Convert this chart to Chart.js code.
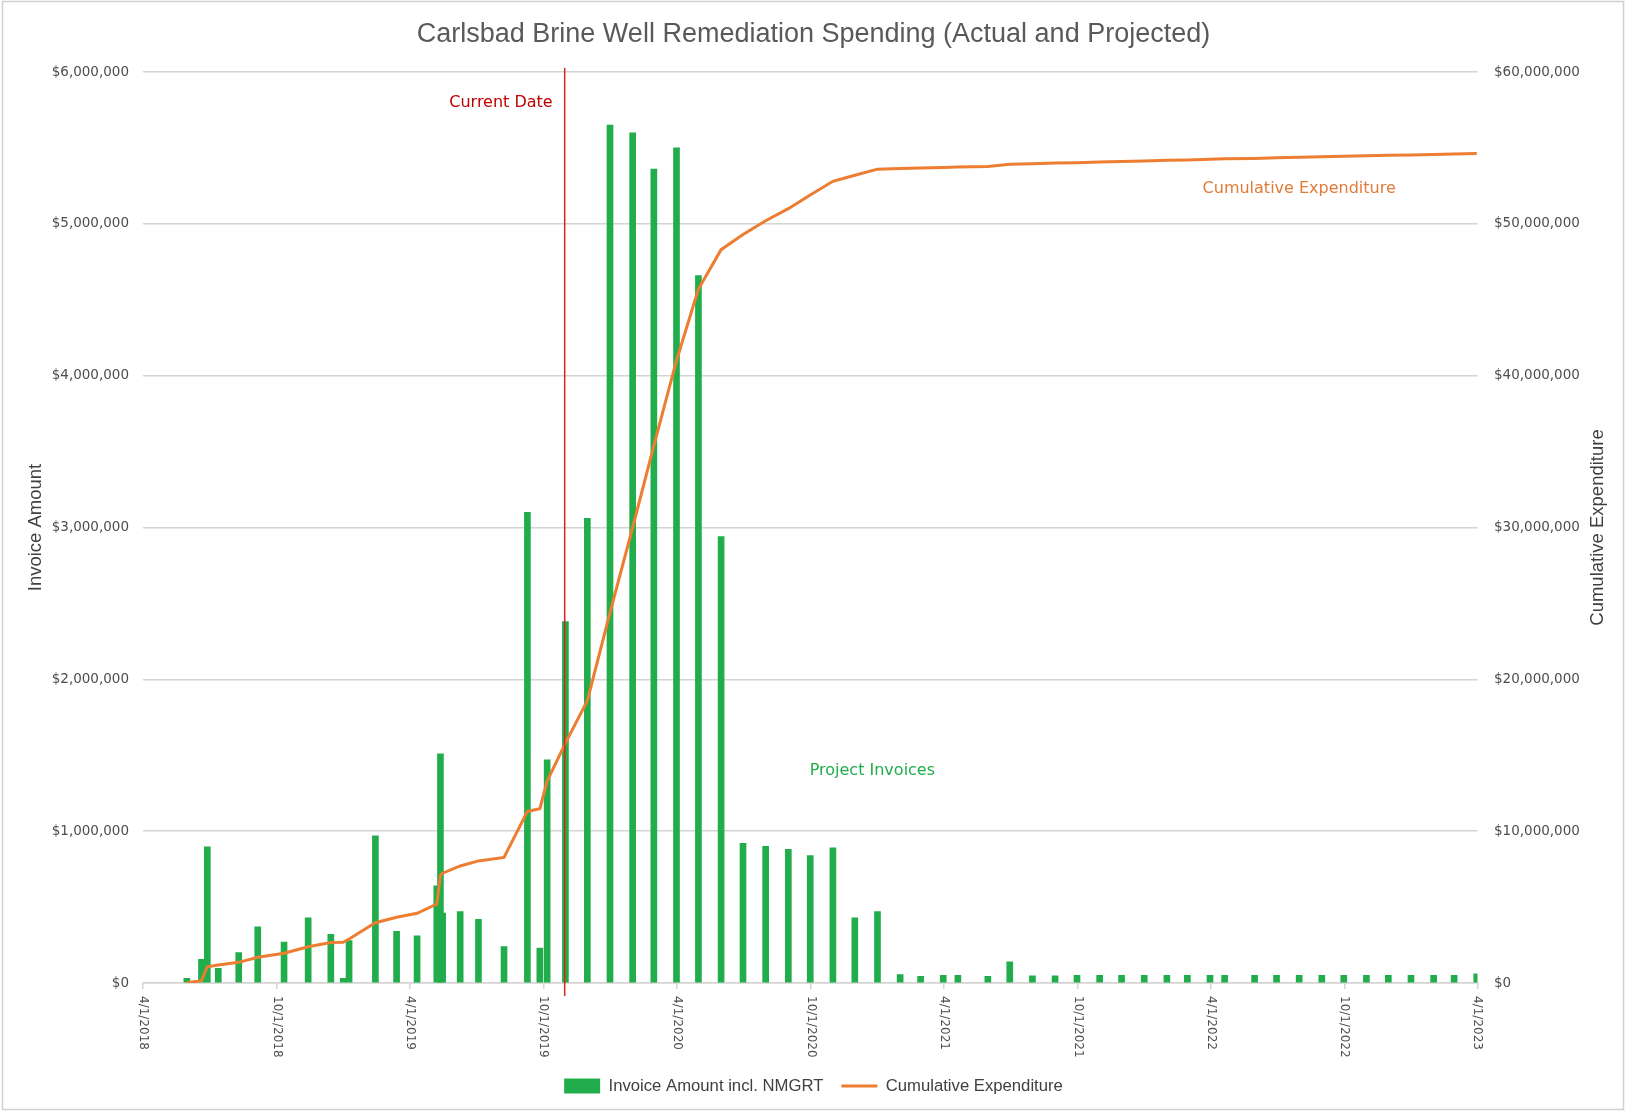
<!DOCTYPE html>
<html>
<head>
<meta charset="utf-8">
<title>Carlsbad Brine Well Remediation Spending</title>
<script src="https://cdn.jsdelivr.net/npm/chart.js@4.4.1/dist/chart.umd.min.js"></script>
<style>
  html, body { margin: 0; padding: 0; background: #fff; }
  #wrap { width: 1627px; height: 1112px; position: relative; }
</style>
</head>
<body>
<div id="wrap"><canvas id="chart"></canvas></div>
<script>
// invoice dates and amounts
const invoiceDates = [
  '2018-05-31', '2018-06-20', '2018-06-28', '2018-07-13', '2018-08-10', '2018-09-05', '2018-10-11', '2018-11-13', '2018-12-14', '2018-12-31',
  '2019-01-08', '2019-02-13', '2019-03-14', '2019-04-11', '2019-05-08', '2019-05-13', '2019-05-16', '2019-06-09', '2019-07-04', '2019-08-08',
  '2019-09-09', '2019-09-26', '2019-10-06', '2019-10-31', '2019-11-30', '2019-12-31', '2020-01-31', '2020-02-29', '2020-03-31', '2020-04-30',
  '2020-05-31', '2020-06-30', '2020-07-31', '2020-08-31', '2020-09-30', '2020-10-31', '2020-11-30', '2020-12-31', '2021-01-31', '2021-02-28',
  '2021-03-31', '2021-04-20', '2021-05-31', '2021-06-30', '2021-07-31', '2021-08-31', '2021-09-30', '2021-10-31', '2021-11-30', '2021-12-31',
  '2022-01-31', '2022-02-28', '2022-03-31', '2022-04-20', '2022-05-31', '2022-06-30', '2022-07-31', '2022-08-31', '2022-09-30', '2022-10-31',
  '2022-11-30', '2022-12-31', '2023-01-31', '2023-02-28', '2023-03-31'
];
const invoiceAmounts = [
  30000, 156000, 897000, 97000, 200000, 370000, 270000, 430000, 320000, 30000,
  280000, 970000, 340000, 310000, 640000, 1510000, 460000, 470000, 420000, 240000,
  3100000, 230000, 1470000, 2380000, 3060000, 5650000, 5600000, 5360000, 5500000, 4660000,
  2940000, 920000, 900000, 880000, 840000, 890000, 430000, 470000, 55000, 44000,
  50000, 50000, 44000, 140000, 48000, 48000, 50000, 50000, 50000, 50000,
  50000, 50000, 50000, 50000, 50000, 50000, 50000, 50000, 50000, 50000,
  50000, 50000, 50000, 50000, 60000
];
// cumulative expenditure in $ millions, same dates
const cumulativeMillions = [
  0.02, 0.15, 1.07, 1.19, 1.36, 1.69, 1.96, 2.39, 2.66, 2.68,
  2.90, 3.97, 4.33, 4.59, 5.20, 7.11, 7.23, 7.71, 8.04, 8.27,
  11.30, 11.48, 13.30, 15.80, 18.60, 24.40, 30.00, 35.40, 41.00, 45.70,
  48.30, 49.30, 50.20, 51.00, 51.90, 52.80, 53.20, 53.60, 53.64, 53.67,
  53.71, 53.74, 53.77, 53.92, 53.96, 54.00, 54.03, 54.07, 54.10, 54.14,
  54.18, 54.21, 54.25, 54.28, 54.31, 54.35, 54.38, 54.42, 54.45, 54.48,
  54.51, 54.54, 54.57, 54.60, 54.64
];
const tickLabels = ['4/1/2018', '10/1/2018', '4/1/2019', '10/1/2019', '4/1/2020', '10/1/2020',
  '4/1/2021', '10/1/2021', '4/1/2022', '10/1/2022', '4/1/2023'];
const currentDate = '2019-10-30';

const START = Date.UTC(2018, 3, 1);
const toDay = (iso) => (Date.parse(iso) - START) / 864e5;
const labelToDay = (s) => {
  const [m, d, y] = s.split('/').map(Number);
  return (Date.UTC(y, m - 1, d) - START) / 864e5;
};
const money = (v) => '$' + Number(v).toLocaleString('en-US');

const GREEN = '#21AD4B';
const ORANGE = '#ED7D31';

const overlay = {
  id: 'overlay',
  afterDatasetsDraw(chart) {
    const { ctx, chartArea, scales } = chart;
    const x = scales.x, y = scales.y, y1 = scales.y1;
    const cx = x.getPixelForValue(toDay(currentDate));
    ctx.save();
    // current date marker
    ctx.strokeStyle = '#D9261C';
    ctx.lineWidth = 1.5;
    ctx.beginPath();
    ctx.moveTo(cx, chartArea.top - 4);
    ctx.lineTo(cx, chartArea.bottom + 13);
    ctx.stroke();

    ctx.font = '16px "DejaVu Sans"';
    ctx.textBaseline = 'middle';
    ctx.fillStyle = '#C00000';
    ctx.textAlign = 'right';
    ctx.fillText('Current Date', cx - 12, y.getPixelForValue(5800000));

    ctx.textAlign = 'center';
    ctx.fillStyle = '#E07B39';
    ctx.fillText('Cumulative Expenditure', x.getPixelForValue(toDay('2022-07-31')), y1.getPixelForValue(52300000));
    ctx.fillStyle = GREEN;
    ctx.fillText('Project Invoices', x.getPixelForValue(toDay('2020-12-24')), y.getPixelForValue(1400000));
    ctx.restore();
  },
  afterDraw(chart) {
    const { ctx, chartArea, scales } = chart;
    ctx.save();
    // rotated date labels, reading top to bottom
    ctx.font = '12px "DejaVu Sans"';
    ctx.fillStyle = '#4d4d4d';
    ctx.textAlign = 'left';
    ctx.textBaseline = 'middle';
    tickLabels.forEach((l) => {
      const px = scales.x.getPixelForValue(labelToDay(l));
      ctx.save();
      ctx.translate(px, chartArea.bottom + 13);
      ctx.rotate(Math.PI / 2);
      ctx.fillText(l, 0, 0);
      ctx.restore();
    });
    // right axis title reads bottom to top, like the left one
    ctx.save();
    ctx.font = '18.5px "Liberation Sans"';
    ctx.fillStyle = '#404040';
    ctx.textAlign = 'center';
    ctx.translate(scales.y1.right - 23, (chartArea.top + chartArea.bottom) / 2);
    ctx.rotate(-Math.PI / 2);
    ctx.fillText('Cumulative Expenditure', 0, 0);
    ctx.restore();
    // chart frame
    ctx.strokeStyle = '#d0d0d0';
    ctx.lineWidth = 1.5;
    ctx.strokeRect(2.5, 1.5, 1621, 1108);
    ctx.restore();
  }
};

new Chart(document.getElementById('chart'), {
  data: {
    datasets: [
      {
        type: 'bar',
        label: 'Invoice Amount incl. NMGRT',
        data: invoiceDates.map((d, i) => ({ x: toDay(d), y: invoiceAmounts[i] })),
        backgroundColor: GREEN,
        borderWidth: 0,
        barThickness: 6,
        pointStyle: 'rect',
        yAxisID: 'y',
        order: 1
      },
      {
        type: 'line',
        label: 'Cumulative Expenditure',
        data: invoiceDates.map((d, i) => ({ x: toDay(d), y: cumulativeMillions[i] * 1e6 })),
        borderColor: ORANGE,
        backgroundColor: ORANGE,
        borderWidth: 3,
        pointRadius: 0,
        pointBorderWidth: 3,
        pointStyle: 'line',
        tension: 0,
        yAxisID: 'y1',
        order: 0
      }
    ]
  },
  options: {
    responsive: true,
    maintainAspectRatio: false,
    animation: false,
    layout: { padding: { left: 6, right: 6, top: 0, bottom: 7.7 } },
    plugins: {
      title: {
        display: true,
        text: 'Carlsbad Brine Well Remediation Spending (Actual and Projected)',
        color: '#595959',
        font: { family: 'Liberation Sans', size: 27, weight: 'normal' },
        padding: { top: 18, bottom: 21.6 }
      },
      legend: {
        position: 'bottom',
        labels: {
          usePointStyle: true,
          pointStyleWidth: 36,
          boxHeight: 15,
          padding: 18,
          color: '#404040',
          font: { family: 'Liberation Sans', size: 16.7 },
          sort: (a, b) => a.datasetIndex - b.datasetIndex
        }
      },
      tooltip: { enabled: false }
    },
    scales: {
      x: {
        type: 'linear',
        min: 0,
        max: labelToDay('4/1/2023'),
        offset: false,
        afterBuildTicks: (scale) => {
          scale.ticks = tickLabels.map((l) => ({ value: labelToDay(l), label: l }));
        },
        afterFit: (scale) => { scale.height = 76.6; },
        ticks: { display: false },
        grid: { display: true, offset: false, drawOnChartArea: false, drawTicks: true, tickLength: 6, color: '#d4d4d4', lineWidth: 1.5 },
        border: { display: true, color: '#d4d4d4', width: 1.5 }
      },
      y: {
        type: 'linear',
        position: 'left',
        min: 0,
        max: 6000000,
        afterFit: (scale) => { scale.width = 137; },
        ticks: {
          stepSize: 1000000,
          padding: 14,
          color: '#4d4d4d',
          font: { family: 'DejaVu Sans', size: 13.5 },
          callback: money
        },
        grid: { color: '#d4d4d4', lineWidth: 1.5, drawTicks: false },
        border: { display: false },
        title: {
          display: true,
          text: 'Invoice Amount',
          color: '#404040',
          font: { family: 'Liberation Sans', size: 18.5 },
          padding: { top: 19, bottom: 0 }
        }
      },
      y1: {
        type: 'linear',
        position: 'right',
        min: 0,
        max: 60000000,
        afterFit: (scale) => { scale.width = 143.5; },
        ticks: {
          stepSize: 10000000,
          padding: 16.5,
          color: '#4d4d4d',
          font: { family: 'DejaVu Sans', size: 13.5 },
          callback: money
        },
        grid: { drawOnChartArea: false, drawTicks: false },
        border: { display: false }
      }
    }
  },
  plugins: [overlay]
});
</script>
</body>
</html>
